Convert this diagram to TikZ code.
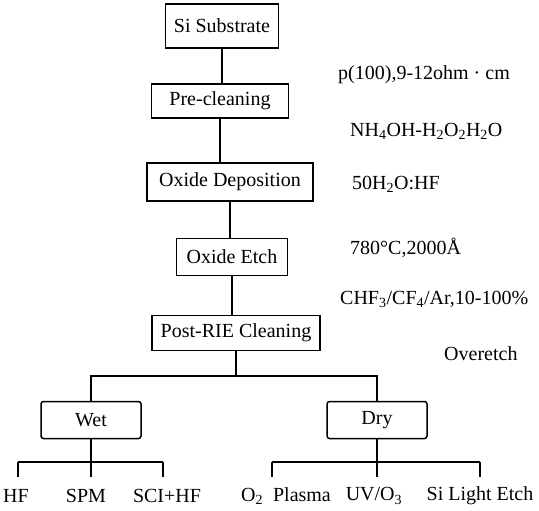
\documentclass[tikz,border=0pt]{standalone}
\usepackage{fontspec}
\setmainfont{Liberation Serif}
\usetikzlibrary{calc}

\begin{document}
\begin{tikzpicture}[x=1pt, y=-1pt, font=\fontsize{20}{23}\selectfont,
  stepbox/.style={draw, line width=1.5pt, inner sep=0pt, anchor=center},
  kindbox/.style={stepbox, rounded corners=2.5pt, minimum width=100pt, minimum height=37pt},
  note/.style={anchor=west, inner sep=0pt},
  leaf/.style={inner sep=0pt, anchor=center},
  link/.style={line width=1.5pt}]
  \useasboundingbox (0,0) rectangle (539,511);
  % main process flow, top to bottom
  \node[stepbox, minimum width=113pt, minimum height=44pt] (si) at (222,26) {Si Substrate};
  \node[stepbox, minimum width=137pt, minimum height=34pt] (pre) at (220,101) {Pre-cleaning};
  \node[stepbox, minimum width=166pt, minimum height=38pt] (dep) at (230,182) {Oxide Deposition};
  \node[stepbox, minimum width=111pt, minimum height=37pt] (etch) at (232,257) {Oxide Etch};
  \node[stepbox, minimum width=168pt, minimum height=35pt] (post) at (236,333) {Post-RIE Cleaning};
  \foreach \a/\b in {si/pre, pre/dep, dep/etch, etch/post}
    \draw[link] (\a.south) -- (\a.south |- \b.north);
  % process conditions on the right
  \node[note] (wafer) at (338,75) {p(100),9-12ohm · cm};
  \node[note] (rca) at (350,131) {NH\textsubscript{4}OH-H\textsubscript{2}O\textsubscript{2}H\textsubscript{2}O};
  \node[note] (dilute) at (352,184) {50H\textsubscript{2}O:HF};
  \node[note] (oxide) at (350,248) {780\textdegree C,2000Å};
  \node[note] (rie) at (340,299) {CHF\textsubscript{3}/CF\textsubscript{4}/Ar,10-100\%};
  \node[note] (over) at (444,354) {Overetch};
  % wet and dry cleaning branches
  \coordinate (fork) at (236,376);
  \node[kindbox] (wet) at (91,420) {Wet};
  \node[kindbox] (dry) at (377,420) {Dry};
  \draw[link] (post.south) -- (fork);
  \draw[link] (wet.north) -- (wet.north |- fork) -- (dry.north |- fork) -- (dry.north);
  % cleaning methods
  \foreach \n/\x/\t in {hfl/16/HF, spm/86/SPM, sci/167/SCI+HF,
      opl/286/{O\textsubscript{2}\ \ Plasma}, uvo/374/{UV/O\textsubscript{3}}, sle/480/Si Light Etch}
    \node[leaf] (\n) at (\x,496) {\t};
  \coordinate (bar) at (0,462);
  \coordinate (tip) at (0,477);
  \foreach \n/\dx in {hfl/2, spm/5, sci/-4, opl/-14, uvo/3, sle/0}
    \draw[link] ($(\n.north |- bar)+(\dx,0)$) -- ($(\n.north |- tip)+(\dx,0)$);
  \draw[link] ($(hfl.north |- bar)+(2,0)$) -- ($(sci.north |- bar)+(-4,0)$);
  \draw[link] ($(opl.north |- bar)+(-14,0)$) -- (sle.north |- bar);
  \draw[link] (wet.south) -- (wet.south |- bar);
  \draw[link] (dry.south) -- (dry.south |- bar);
\end{tikzpicture}
\end{document}
